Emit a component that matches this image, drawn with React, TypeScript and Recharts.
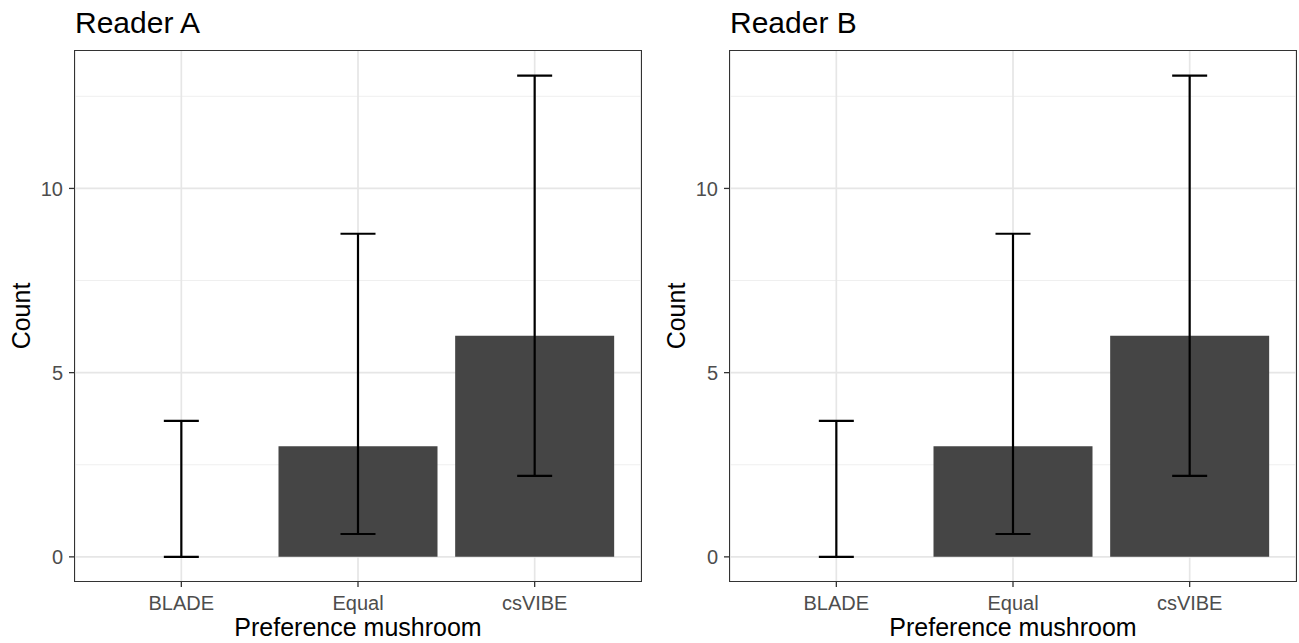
import React from 'react'
import {
  BarChart,
  Bar,
  XAxis,
  YAxis,
  CartesianGrid,
  Label,
} from 'recharts'

const categories = ['BLADE', 'Equal', 'csVIBE']

const countsA = [0, 3, 6]
const lowerA = [0, 0.62, 2.2]
const upperA = [3.69, 8.77, 13.06]

const countsB = [0, 3, 6]
const lowerB = [0, 0.62, 2.2]
const upperB = [3.69, 8.77, 13.06]

const yTicks = [0, 5, 10]
const yMinor = [2.5, 7.5, 12.5]
const yDomain = [-0.655, 13.73]

const FONT = '"Liberation Sans", Arial, Helvetica, sans-serif'
const DARK = { stroke: '#333333', strokeWidth: 1.3 }

function buildRows(counts: number[], lower: number[], upper: number[]) {
  return categories.map((cat, i) => ({
    cat,
    count: counts[i],
    ci: [lower[i], upper[i]],
  }))
}

// draws an I-beam over the band of a range bar
function Whisker(props: any) {
  const { x, y, width, height } = props
  if (x == null || y == null) return null
  const cx = x + width / 2
  const top = Math.min(y, y + height)
  const bottom = Math.max(y, y + height)
  const half = 17.5
  return (
    <g stroke="#000000" strokeWidth={2.2} fill="none">
      <line x1={cx} y1={top} x2={cx} y2={bottom} />
      <line x1={cx - half} y1={top} x2={cx + half} y2={top} />
      <line x1={cx - half} y1={bottom} x2={cx + half} y2={bottom} />
    </g>
  )
}

function Panel({
  title,
  rows,
  left,
}: {
  title: string
  rows: { cat: string; count: number; ci: number[] }[]
  left: number
}) {
  return (
    <div style={{ position: 'absolute', left, top: 0, width: 650, height: 643 }}>
      <div
        style={{
          position: 'absolute',
          left: 75,
          top: 8,
          fontFamily: FONT,
          fontSize: 30,
          lineHeight: '30px',
          color: '#000',
          whiteSpace: 'nowrap',
        }}
      >
        {title}
      </div>
      <BarChart
        width={650}
        height={643}
        data={rows}
        margin={{ top: 51, right: 9, bottom: 0, left: 0 }}
        barCategoryGap="5%"
      >
        <CartesianGrid
          horizontalValues={yMinor}
          vertical={false}
          stroke="#EFEFEF"
          strokeWidth={1}
        />
        <CartesianGrid
          horizontalValues={yTicks}
          stroke="#E6E6E6"
          strokeWidth={1.7}
        />
        <XAxis
          dataKey="cat"
          type="category"
          padding={{ left: 18, right: 18 }}
          height={62}
          tickSize={6}
          tickMargin={9}
          axisLine={false}
          tickLine={DARK}
          tick={{ fill: '#4D4D4D', fontSize: 20, fontFamily: FONT }}
        >
          <Label
            value="Preference mushroom"
            position="insideBottom"
            offset={7}
            style={{ fill: '#000', fontSize: 25, fontFamily: FONT }}
          />
        </XAxis>
        <XAxis
          xAxisId="top"
          dataKey="cat"
          type="category"
          orientation="top"
          padding={{ left: 18, right: 18 }}
          height={0}
          hide
        />
        <YAxis
          type="number"
          domain={yDomain}
          allowDataOverflow
          ticks={yTicks}
          width={75}
          tickSize={6}
          tickMargin={6}
          axisLine={false}
          tickLine={DARK}
          tick={{ fill: '#4D4D4D', fontSize: 20, fontFamily: FONT }}
        >
          <Label
            value="Count"
            angle={-90}
            position="insideLeft"
            offset={21}
            style={{ textAnchor: 'middle', fill: '#000', fontSize: 25, fontFamily: FONT }}
          />
        </YAxis>
        <YAxis
          yAxisId="right"
          type="number"
          orientation="right"
          domain={yDomain}
          allowDataOverflow
          width={0}
          hide
        />
        <Bar dataKey="count" fill="#454545" isAnimationActive={false} />
        <Bar
          dataKey="ci"
          xAxisId="top"
          yAxisId="right"
          shape={<Whisker />}
          isAnimationActive={false}
        />
      </BarChart>
      {/* panel frame */}
      <div
        style={{
          position: 'absolute',
          left: 74,
          top: 50,
          width: 568,
          height: 532,
          border: '1.4px solid #333333',
          boxSizing: 'border-box',
          pointerEvents: 'none',
        }}
      />
    </div>
  )
}

export default function App() {
  return (
    <div
      style={{
        position: 'relative',
        width: 1299,
        height: 643,
        overflow: 'hidden',
        background: '#fff',
      }}
    >
      <style>{'body{margin:0;}'}</style>
      <Panel title="Reader A" rows={buildRows(countsA, lowerA, upperA)} left={0} />
      <Panel title="Reader B" rows={buildRows(countsB, lowerB, upperB)} left={655} />
    </div>
  )
}
